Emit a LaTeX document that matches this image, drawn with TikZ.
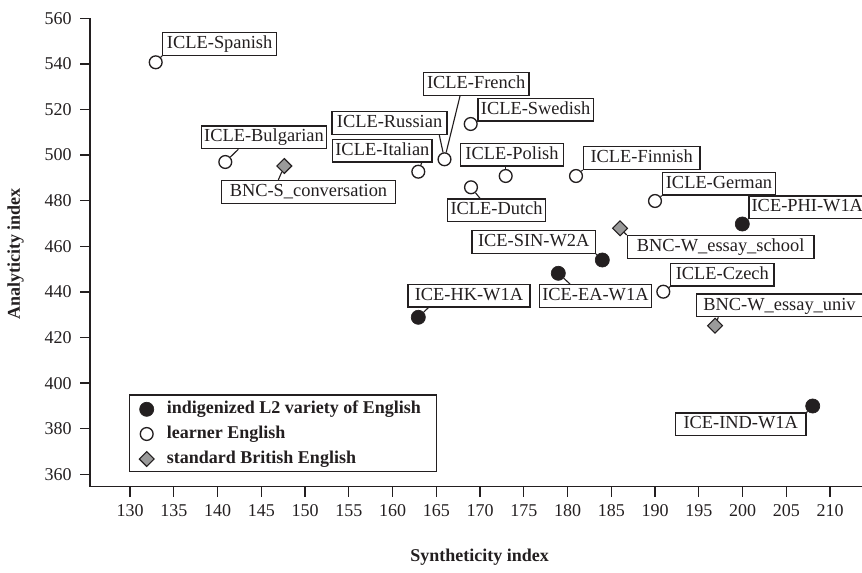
\documentclass[tikz,border=0pt]{standalone}
\usepackage{fontspec}
\setmainfont{Liberation Serif}
\usetikzlibrary{calc,shapes.geometric}
\definecolor{ink}{HTML}{231F20}
\definecolor{dgray}{HTML}{9A9A9A}
\tikzset{
  lbl/.style={draw=ink, line width=0.95pt, fill=white, text=ink, inner xsep=2pt, inner ysep=1.5pt, text height=10.5pt, text depth=3.5pt, minimum width={#1*0.75pt}, font=\fontsize{13.8pt}{16pt}\selectfont},
  learner/.style={circle, draw=ink, fill=white, line width=1pt, minimum size=9.6pt, inner sep=0pt},
  indig/.style={circle, draw=ink, fill=ink, line width=0.5pt, minimum size=10.6pt, inner sep=0pt},
  brit/.style={diamond, aspect=1, draw=ink, fill=dgray, line width=0.8pt, minimum size=11.5pt, inner sep=0pt},
  conn/.style={draw=ink, line width=0.85pt},
  axisline/.style={draw=ink, line width=1pt},
  ticklbl/.style={text=ink, inner sep=0pt},
  axtitle/.style={text=ink, font=\fontsize{13.5pt}{16pt}\selectfont\bfseries, inner sep=0pt},
  legtext/.style={anchor=west, inner sep=0pt, text=ink, font=\fontsize{13.5pt}{16pt}\selectfont\bfseries}
}
\begin{document}
\begin{tikzpicture}[x=0.75pt,y=-0.75pt, font=\fontsize{13.5pt}{16pt}\selectfont]
\useasboundingbox (0,0) rectangle (862,573);

% axes
\coordinate (o) at (90,486.7);
\coordinate (ytop) at (90,18.3);
\coordinate (xend) at (862,486.7);
\draw[axisline] (ytop) -- (o) -- (xend);
\foreach \v in {360,380,...,560}{
  \draw[axisline] (80,{18.3+(560-\v)*2.28}) -- (90,{18.3+(560-\v)*2.28});
  \node[ticklbl, anchor=east] (yl\v) at (72,{18.3+(560-\v)*2.28}) {\v};
}
\foreach \v in {130,135,...,210}{
  \draw[axisline] ({130+(\v-130)*8.75},486.7) -- ({130+(\v-130)*8.75},496.7);
  \node[ticklbl] (xl\v) at ({130+(\v-130)*8.75},510.5) {\v};
}
\node[axtitle, rotate=90] (ytitle) at (15.5,254) {Analyticity index};
\node[axtitle] (xtitle) at (479.7,557) {Syntheticity index};

% markers
\node[learner] (m1) at (155.7,62.3) {};
\node[learner] (m2) at (225.3,162) {};
\node[brit] (m3) at (284.3,166) {};
\node[learner] (m5) at (444.5,159.3) {};
\node[learner] (m6) at (418.3,171.7) {};
\node[learner] (m7) at (470.7,124) {};
\node[learner] (m8) at (505.7,176) {};
\node[learner] (m9) at (471,187.3) {};
\node[learner] (m10) at (576,176) {};
\node[learner] (m11) at (655,201) {};
\node[indig] (m12) at (742.3,224) {};
\node[brit] (m13) at (620,228.3) {};
\node[indig] (m14) at (602.3,260) {};
\node[indig] (m15) at (558.3,273.3) {};
\node[indig] (m16) at (418.3,317.3) {};
\node[learner] (m17) at (663.3,291.7) {};
\node[brit] (m18) at (715,325.7) {};
\node[indig] (m19) at (812.7,406) {};

% labels
\node[lbl=114, anchor=south west] (b1) at (162,56) {ICLE-Spanish};
\node[lbl=125.3, anchor=south west] (b2) at (200.7,149.3) {ICLE-Bulgarian};
\node[lbl=174.3, anchor=north west] (b3) at (220.7,180) {BNC-S\_conversation};
\node[lbl=115, anchor=south east] (b4) at (447.7,135) {ICLE-Russian};
\node[lbl=105.6, anchor=south west] (b5) at (422.7,96) {ICLE-French};
\node[lbl=99.4, anchor=south east] (b6) at (432.7,162.7) {ICLE-Italian};
\node[lbl=115.4, anchor=south west] (b7) at (477.3,121.7) {ICLE-Swedish};
\node[lbl=102.7, anchor=south west] (b8) at (460,166.7) {ICLE-Polish};
\node[lbl=98.3, anchor=north west] (b9) at (446.7,198.3) {ICLE-Dutch};
\node[lbl=116.6, anchor=south west] (b10) at (582.7,170) {ICLE-Finnish};
\node[lbl=113.3, anchor=south west] (b11) at (661.7,195.7) {ICLE-German};
\node[lbl=113.4, anchor=south west] (b12) at (748.3,219.3) {ICE-PHI-W1A};
\node[lbl=186.6, anchor=north west] (b13) at (626.7,235) {BNC-W\_essay\_school};
\node[lbl=123.3, anchor=south east] (b14) at (596,254) {ICE-SIN-W2A};
\node[lbl=111, anchor=north west] (b15) at (539,284) {ICE-EA-W1A};
\node[lbl=122, anchor=south west] (b16) at (407.3,307.7) {ICE-HK-W1A};
\node[lbl=103.3, anchor=south west] (b17) at (670,286.7) {ICLE-Czech};
\node[lbl=165.7, anchor=south west] (b18) at (696,317.3) {BNC-W\_essay\_univ};
\node[lbl=130.7, anchor=north east] (b19) at (806.7,412.3) {ICE-IND-W1A};

% connectors
\draw[conn] (m1) -- (b1.south west);
\draw[conn] (m2) -- ($(b2.south west)+(37.6,0)$);
\draw[conn] (m3) -- ($(b3.north west)+(57.6,0)$);
\draw[conn] (m5) -- ($(b4.south east)+(-8.4,0)$);
\draw[conn] (m5) -- ($(b5.south west)+(37.3,0)$);
\draw[conn] (m6) -- ($(b6.south east)+(-11,0)$);
\draw[conn] (m7) -- (b7.south west);
\draw[conn] (m8) -- ($(b8.south west)+(45.7,0)$);
\draw[conn] (m9) -- ($(b9.north west)+(33.3,0)$);
\draw[conn] (m10) -- (b10.south west);
\draw[conn] (m11) -- (b11.south west);
\draw[conn] (m12) -- (b12.south west);
\draw[conn] (m13) -- (b13.north west);
\draw[conn] (m14) -- (b14.south east);
\draw[conn] (m15) -- ($(b15.north west)+(31,0)$);
\draw[conn] (m16) -- ($(b16.south west)+(21,0)$);
\draw[conn] (m17) -- (b17.south west);
\draw[conn] (m18) -- ($(b18.south west)+(22.3,0)$);
\draw[conn] (m19) -- (b19.north east);

% legend
\node[draw=ink, line width=1pt, fill=white, minimum width=230.5pt, minimum height=57.5pt, inner sep=0pt] (leg) at (283,433.35) {};
\node[indig] (lg1) at (146.7,409.3) {};
\node[learner] (lg2) at (146.7,434) {};
\node[brit] (lg3) at (146.7,459) {};
\node[legtext] (lt1) at (166.7,409.3) {indigenized L2 variety of English};
\node[legtext] (lt2) at (166.7,434) {learner English};
\node[legtext] (lt3) at (166.7,459) {standard British English};
\end{tikzpicture}
\end{document}
